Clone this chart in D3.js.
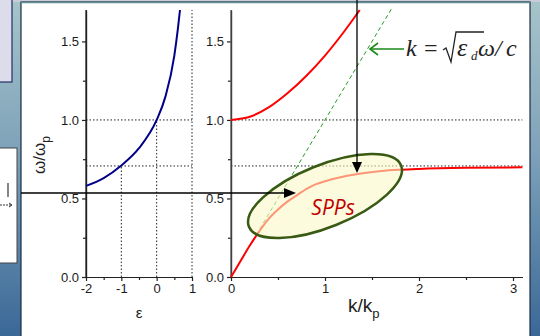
<!DOCTYPE html>
<html>
<head>
<meta charset="utf-8">
<script src="https://cdn.jsdelivr.net/npm/d3@7"></script>
<style>
  body { margin: 0; }
  svg { display: block; }
</style>
</head>
<body>
<svg width="540" height="336"></svg>
<script>
// left panel: permittivity vs frequency
let epsVals   = [-2, -1.5, -1, -0.5, 0, 0.25, 0.5, 0.6, 0.66];
let epsOmega  = [0.58, 0.63, 0.71, 0.82, 1.0, 1.15, 1.41, 1.58, 1.70];
// right panel: bulk plasmon branch
let bulkK     = [0, 0.2, 0.4, 0.6, 0.8, 1.0, 1.2, 1.37];
let bulkOmega = [1.0, 1.02, 1.08, 1.17, 1.28, 1.41, 1.56, 1.70];
// right panel: surface plasmon branch
let sppK      = [0, 0.1, 0.2, 0.3, 0.4, 0.5, 0.6, 0.7, 0.8, 0.9, 1.0, 1.2, 1.4, 1.6, 1.8, 2.0, 2.5, 3.1];
let sppOmega  = [0, 0.1, 0.2, 0.29, 0.37, 0.43, 0.48, 0.52, 0.56, 0.59, 0.61, 0.64, 0.66, 0.675, 0.683, 0.688, 0.695, 0.698];
// light line
let lightK     = [0, 1.72];
let lightOmega = [0, 1.72];
// ticks
let omegaTicks = [0, 0.5, 1.0, 1.5];
let omegaMinor = [0.25, 0.75, 1.25];
let epsTicks   = [-2, -1, 0, 1];
let epsMinor   = [-1.5, -0.5, 0.5];
let kTicks     = [0, 1, 2, 3];
let kMinor     = [0.5, 1.5, 2.5];
let omegaSpp   = 0.707;

let svg = d3.select('svg');

//背景
let defs = svg.append('defs');
let grad = defs.append('linearGradient').attr('id', 'bg').attr('x1', 0).attr('y1', 0).attr('x2', 0).attr('y2', 1);
grad.append('stop').attr('offset', '0%').attr('stop-color', '#a6c4c9');
grad.append('stop').attr('offset', '45%').attr('stop-color', '#7ea2b9');
grad.append('stop').attr('offset', '100%').attr('stop-color', '#3a6897');
svg.append('rect').attr('width', 540).attr('height', 336).attr('fill', 'url(#bg)');
svg.append('rect').attr('x', 0).attr('y', 0).attr('width', 540).attr('height', 2).attr('fill', '#c9ccd8');

// side boxes of the slide
svg.append('rect').attr('x', -2).attr('y', -2).attr('width', 14).attr('height', 84)
    .attr('fill', '#dcdcea').attr('stroke', '#22306a').attr('stroke-width', 1.2);
svg.append('rect').attr('x', -2).attr('y', 148).attr('width', 19).attr('height', 115)
    .attr('fill', '#fff').attr('stroke', '#444').attr('stroke-width', 1);
svg.append('line').attr('x1', 8).attr('x2', 8).attr('y1', 183).attr('y2', 197).attr('stroke', '#333').attr('stroke-width', 1.2);
svg.append('line').attr('x1', 0).attr('x2', 11).attr('y1', 205).attr('y2', 205).attr('stroke', '#333').attr('stroke-dasharray', '2,1');
svg.append('path').attr('d', 'M9,203 L12,205 L9,207').attr('fill', 'none').attr('stroke', '#333');

// white panel
svg.append('rect').attr('x', 21).attr('y', 2).attr('width', 509).attr('height', 340)
    .attr('fill', '#fff').attr('stroke', '#1c2c44').attr('stroke-width', 1.2);
svg.append('line').attr('x1', 21).attr('x2', 530).attr('y1', 2.5).attr('y2', 2.5).attr('stroke', '#5f8f92').attr('stroke-width', 1.5);

//比例尺
let y = d3.scaleLinear().domain([0, 1.7]).range([277, 10]);
let xL = d3.scaleLinear().domain([-2, 1]).range([86, 192]);
let xR = d3.scaleLinear().domain([0, 3.1]).range([231, 522.4]);

// dotted guides
let dot = svg.append('g').attr('fill', 'none').attr('stroke', '#222').attr('stroke-width', 1).attr('stroke-dasharray', '1.5,2');
dot.append('line').attr('x1', xL(-2)).attr('x2', xL(1)).attr('y1', y(1)).attr('y2', y(1));
dot.append('line').attr('x1', xL(-2)).attr('x2', xL(1)).attr('y1', y(omegaSpp)).attr('y2', y(omegaSpp));
dot.append('line').attr('x1', xL(-1)).attr('x2', xL(-1)).attr('y1', y(0)).attr('y2', y(omegaSpp));
dot.append('line').attr('x1', xL(0)).attr('x2', xL(0)).attr('y1', y(0)).attr('y2', y(1));
dot.append('line').attr('x1', xL(1)).attr('x2', xL(1)).attr('y1', y(0)).attr('y2', y(1.7));
dot.append('line').attr('x1', xR(0)).attr('x2', xR(3.1)).attr('y1', y(1)).attr('y2', y(1));
dot.append('line').attr('x1', xR(0)).attr('x2', xR(3.1)).attr('y1', y(omegaSpp)).attr('y2', y(omegaSpp));

//坐标轴
function drawAxes(g, x, xt, xm) {
    let fmtY = d3.format('.1f');
    let fmtX = d => String(d);   // plain hyphen minus like the original
    g.append('g').attr('transform', `translate(${x.range()[0]},0)`)
        .call(d3.axisLeft(y).tickValues(omegaTicks).tickFormat(fmtY).tickSize(4).tickSizeOuter(0).tickPadding(3));
    g.append('g').attr('transform', `translate(${x.range()[0]},0)`)
        .call(d3.axisLeft(y).tickValues(omegaMinor).tickFormat('').tickSize(3).tickSizeOuter(0));
    g.append('g').attr('transform', `translate(0,${y(0)})`)
        .call(d3.axisBottom(x).tickValues(xt).tickFormat(fmtX).tickSize(4).tickSizeOuter(0).tickPadding(3));
    g.append('g').attr('transform', `translate(0,${y(0)})`)
        .call(d3.axisBottom(x).tickValues(xm).tickFormat('').tickSize(3).tickSizeOuter(0));
}
let axes = svg.append('g');
drawAxes(axes, xL, epsTicks, epsMinor);
drawAxes(axes, xR, kTicks, kMinor);
axes.selectAll('g').attr('font-family', 'Liberation Sans, Arial, sans-serif').attr('font-size', 13);
axes.selectAll('.tick text').attr('fill', '#1a1a1a');
axes.selectAll('.domain').attr('stroke', '#222').attr('stroke-width', 1.2);
axes.selectAll('.tick line').attr('stroke', '#222').attr('stroke-width', 1.2);
// extend y axes to top
svg.append('line').attr('x1', xL(-2)).attr('x2', xL(-2)).attr('y1', y(1.7)).attr('y2', y(0)).attr('stroke', '#222').attr('stroke-width', 1.2);
svg.append('line').attr('x1', xR(0)).attr('x2', xR(0)).attr('y1', y(1.7)).attr('y2', y(0)).attr('stroke', '#555').attr('stroke-width', 1.2);

//曲线
let lineL = d3.line().x(d => xL(d[0])).y(d => y(d[1])).curve(d3.curveMonotoneX);
let lineR = d3.line().x(d => xR(d[0])).y(d => y(d[1])).curve(d3.curveMonotoneX);

svg.append('path').datum(epsVals.map((e, i) => [e, epsOmega[i]]))
    .attr('d', lineL).attr('fill', 'none').attr('stroke', '#000088').attr('stroke-width', 2);

svg.append('path').datum(lightK.map((k, i) => [k, lightOmega[i]]))
    .attr('d', lineR).attr('fill', 'none').attr('stroke', '#1f9a1f').attr('stroke-width', 1).attr('stroke-dasharray', '4,3');

svg.append('path').datum(bulkK.map((k, i) => [k, bulkOmega[i]]))
    .attr('d', lineR).attr('fill', 'none').attr('stroke', '#ff0000').attr('stroke-width', 2);

svg.append('path').datum(sppK.map((k, i) => [k, sppOmega[i]]))
    .attr('d', lineR).attr('fill', 'none').attr('stroke', '#ff0000').attr('stroke-width', 2);

// SPP ellipse
svg.append('ellipse').attr('cx', 325).attr('cy', 196).attr('rx', 82).attr('ry', 31)
    .attr('transform', 'rotate(-22,325,196)')
    .attr('fill', '#fbf8c6').attr('fill-opacity', 0.6)
    .attr('stroke', '#385a12').attr('stroke-width', 2.5);
svg.append('text').attr('x', 333).attr('y', 215).attr('text-anchor', 'middle')
    .attr('font-family', 'Open Sans, sans-serif').attr('font-style', 'italic').attr('font-size', 21)
    .attr('fill', '#c00000').text('SPPs');

// black arrows
svg.append('line').attr('x1', 357).attr('x2', 357).attr('y1', 0).attr('y2', 163).attr('stroke', '#000').attr('stroke-width', 1.3);
svg.append('path').attr('d', 'M352,162 L362,162 L357,173 Z').attr('fill', '#000');
svg.append('line').attr('x1', 21).attr('x2', 285).attr('y1', 193).attr('y2', 193).attr('stroke', '#000').attr('stroke-width', 1.3);
svg.append('path').attr('d', 'M284,188 L284,198 L296,193 Z').attr('fill', '#000');

// light line annotation
svg.append('line').attr('x1', 404).attr('x2', 371).attr('y1', 49).attr('y2', 49).attr('stroke', '#1a8a1a').attr('stroke-width', 1.6);
svg.append('path').attr('d', 'M378,43 L370,49 L378,55').attr('fill', 'none').attr('stroke', '#1a8a1a').attr('stroke-width', 1.6);
let f = svg.append('g').attr('font-family', 'Liberation Serif, Times New Roman, serif').attr('font-size', 24).attr('fill', '#222');
f.append('text').attr('x', 406).attr('y', 56).attr('font-style', 'italic').text('k');
f.append('text').attr('x', 424).attr('y', 56).text('=');
f.append('path').attr('d', 'M443,50 L446,48 L451,62 L456,32 L484,32').attr('fill', 'none').attr('stroke', '#222').attr('stroke-width', 1.3);
f.append('text').attr('x', 457).attr('y', 56).attr('font-style', 'italic').attr('font-size', 26).text('ε');
f.append('text').attr('x', 471).attr('y', 60).attr('font-style', 'italic').attr('font-size', 13).text('d');
f.append('text').attr('x', 478).attr('y', 56).attr('font-style', 'italic').text('ω');
f.append('text').attr('x', 495).attr('y', 56).attr('font-style', 'italic').text('/');
f.append('text').attr('x', 506).attr('y', 56).attr('font-style', 'italic').text('c');

// axis titles
let lab = svg.append('g').attr('font-family', 'Liberation Sans, Arial, sans-serif').attr('fill', '#222');
let yl = lab.append('text').attr('transform', 'translate(45,174) rotate(-90)').attr('font-size', 17);
yl.append('tspan').text('ω/ω');
yl.append('tspan').attr('dy', 5).attr('font-size', 12).text('p');
lab.append('text').attr('x', 139).attr('y', 318).attr('text-anchor', 'middle').attr('font-size', 15).text('ε');
let xl = lab.append('text').attr('x', 348).attr('y', 312).attr('font-size', 19);
xl.append('tspan').text('k/k');
xl.append('tspan').attr('dy', 6).attr('font-size', 13).text('p');
</script>
</body>
</html>
